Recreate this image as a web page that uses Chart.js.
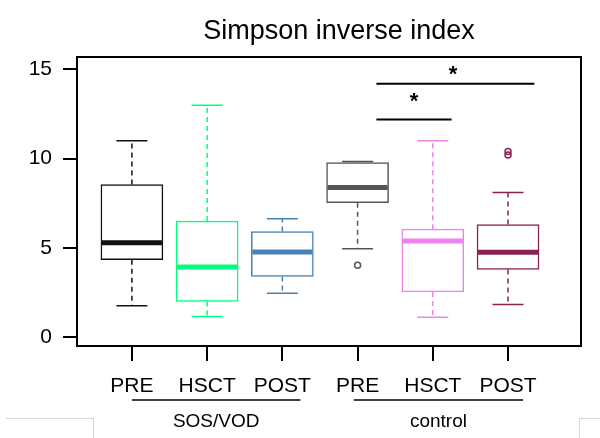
<!DOCTYPE html>
<html>
<head>
<meta charset="utf-8">
<script src="https://cdn.jsdelivr.net/npm/chart.js@4"></script>
<style>
  body { margin: 0; background: #fff; }
  #wrap { position: relative; width: 600px; height: 438px; }
  .corner { position: absolute; border: 0 solid #d6d6d6; }
</style>
</head>
<body>
<div id="wrap">
  <canvas id="myChart" width="600" height="438"></canvas>
  <div class="corner" style="left:6px;top:418px;width:87px;height:20px;border-top-width:1px;border-right-width:1px"></div>
  <div class="corner" style="left:579px;top:418px;width:21px;height:20px;border-top-width:1px;border-left-width:1px"></div>
</div>
<script>
// box plot summaries
const labels = ['PRE', 'HSCT', 'POST', 'PRE', 'HSCT', 'POST']
const positions = [1, 2, 3, 4, 5, 6]
const groups = ['SOS/VOD', 'control']
const groupFrom = [1, 3.95]
const groupTo = [3.24, 6.2]
const whiskerLow = [1.75, 1.16, 2.45, 4.95, 1.11, 1.82]
const q1 = [4.34, 2.0, 3.40, 7.53, 2.53, 3.79]
const median = [5.29, 3.93, 4.77, 8.38, 5.38, 4.75]
const q3 = [8.55, 6.50, 5.92, 9.78, 6.05, 6.31]
const whiskerHigh = [11.0, 12.99, 6.63, 9.84, 11.0, 8.10]
const outliers = [[], [], [], [4.02], [], [10.2, 10.4]]
const colors = ['#111111', '#00ff7f', '#4682b4', '#555555', '#ee82ee', '#8b2252']
const yTicks = [0, 5, 10, 15]
// significance bars
const sigFrom = [4.25, 4.25]
const sigTo = [6.35, 5.25]
const sigLevel = [14.2, 12.2]
const starX = [5.27, 4.75]
const starY = [14.9, 13.4]

const FONT = '"Liberation Sans", Arial, sans-serif'

const boxDecor = {
  id: 'boxDecor',
  afterDatasetsDraw(chart) {
    const ctx = chart.ctx
    const xs = chart.scales.x, ys = chart.scales.y
    const meta = chart.getDatasetMeta(0)
    ctx.save()
    meta.data.forEach((bar, i) => {
      const x = bar.x, half = bar.width / 2
      ctx.strokeStyle = colors[i]
      ctx.lineWidth = 1.5
      // dashed whiskers
      ctx.setLineDash([5, 4])
      ctx.beginPath()
      ctx.moveTo(x, ys.getPixelForValue(q3[i]))
      ctx.lineTo(x, ys.getPixelForValue(whiskerHigh[i]))
      ctx.moveTo(x, ys.getPixelForValue(q1[i]))
      ctx.lineTo(x, ys.getPixelForValue(whiskerLow[i]))
      ctx.stroke()
      ctx.setLineDash([])
      // caps
      ctx.beginPath()
      ctx.moveTo(x - half / 2, ys.getPixelForValue(whiskerHigh[i]))
      ctx.lineTo(x + half / 2, ys.getPixelForValue(whiskerHigh[i]))
      ctx.moveTo(x - half / 2, ys.getPixelForValue(whiskerLow[i]))
      ctx.lineTo(x + half / 2, ys.getPixelForValue(whiskerLow[i]))
      ctx.stroke()
      // median
      ctx.lineWidth = 5
      ctx.beginPath()
      ctx.moveTo(x - half + 1, ys.getPixelForValue(median[i]))
      ctx.lineTo(x + half - 1, ys.getPixelForValue(median[i]))
      ctx.stroke()
      // outliers
      ctx.lineWidth = 1.5
      outliers[i].forEach(v => {
        ctx.beginPath()
        ctx.arc(x, ys.getPixelForValue(v), 3, 0, Math.PI * 2)
        ctx.stroke()
      })
    })

    // significance lines + stars
    ctx.strokeStyle = '#000'
    ctx.fillStyle = '#000'
    ctx.lineWidth = 2
    sigLevel.forEach((lv, i) => {
      const y = ys.getPixelForValue(lv)
      ctx.beginPath()
      ctx.moveTo(xs.getPixelForValue(sigFrom[i]), y)
      ctx.lineTo(xs.getPixelForValue(sigTo[i]), y)
      ctx.stroke()
      ctx.font = 'bold 22px ' + FONT
      ctx.textAlign = 'center'
      ctx.textBaseline = 'middle'
      ctx.fillText('*', xs.getPixelForValue(starX[i]), ys.getPixelForValue(starY[i]) + 4)
    })

    // frame
    const a = chart.chartArea
    ctx.lineWidth = 2
    ctx.strokeRect(a.left, a.top, a.right - a.left, a.bottom - a.top)

    // group underlines and names
    groups.forEach((g, i) => {
      const x1 = xs.getPixelForValue(groupFrom[i]), x2 = xs.getPixelForValue(groupTo[i])
      ctx.lineWidth = 1.5
      ctx.beginPath()
      ctx.moveTo(x1, a.bottom + 54)
      ctx.lineTo(x2, a.bottom + 54)
      ctx.stroke()
      ctx.font = '19px ' + FONT
      ctx.textBaseline = 'middle'
      ctx.fillText(g, (x1 + x2) / 2, a.bottom + 76)
    })

    // title
    ctx.font = '27px ' + FONT
    ctx.textBaseline = 'alphabetic'
    ctx.fillText('Simpson inverse index', (a.left + a.right) / 2 + 10, 39)
    ctx.restore()
  }
}

new Chart(document.getElementById('myChart'), {
  type: 'bar',
  data: {
    datasets: [{
      data: positions.map((p, i) => ({ x: p, y: [q1[i], q3[i]] })),
      backgroundColor: '#ffffff',
      borderColor: colors,
      borderWidth: 1.5,
      borderSkipped: false,
      barThickness: 62
    }]
  },
  options: {
    responsive: false,
    animation: false,
    layout: { padding: { top: 57, right: 19, left: 0, bottom: 0 } },
    plugins: { legend: { display: false }, tooltip: { enabled: false } },
    scales: {
      x: {
        type: 'linear',
        offset: false,
        min: 0.27,
        max: 6.97,
        afterBuildTicks: s => { s.ticks = positions.map(v => ({ value: v })) },
        afterFit: s => { s.height = 92 },
        ticks: {
          callback: v => labels[positions.indexOf(v)],
          color: '#000',
          font: { size: 21, family: FONT },
          padding: 13,
          maxRotation: 0,
          autoSkip: false
        },
        grid: { offset: false, drawOnChartArea: false, tickLength: 15, tickColor: '#000', lineWidth: 2 },
        border: { display: false }
      },
      y: {
        min: -0.5,
        max: 15.7,
        afterBuildTicks: s => { s.ticks = yTicks.map(v => ({ value: v })) },
        afterFit: s => { s.width = 77 },
        ticks: { color: '#000', font: { size: 21, family: FONT }, padding: 11 },
        grid: { drawOnChartArea: false, tickLength: 14, tickColor: '#000', lineWidth: 2 },
        border: { display: false }
      }
    }
  },
  plugins: [boxDecor]
})
</script>
</body>
</html>
